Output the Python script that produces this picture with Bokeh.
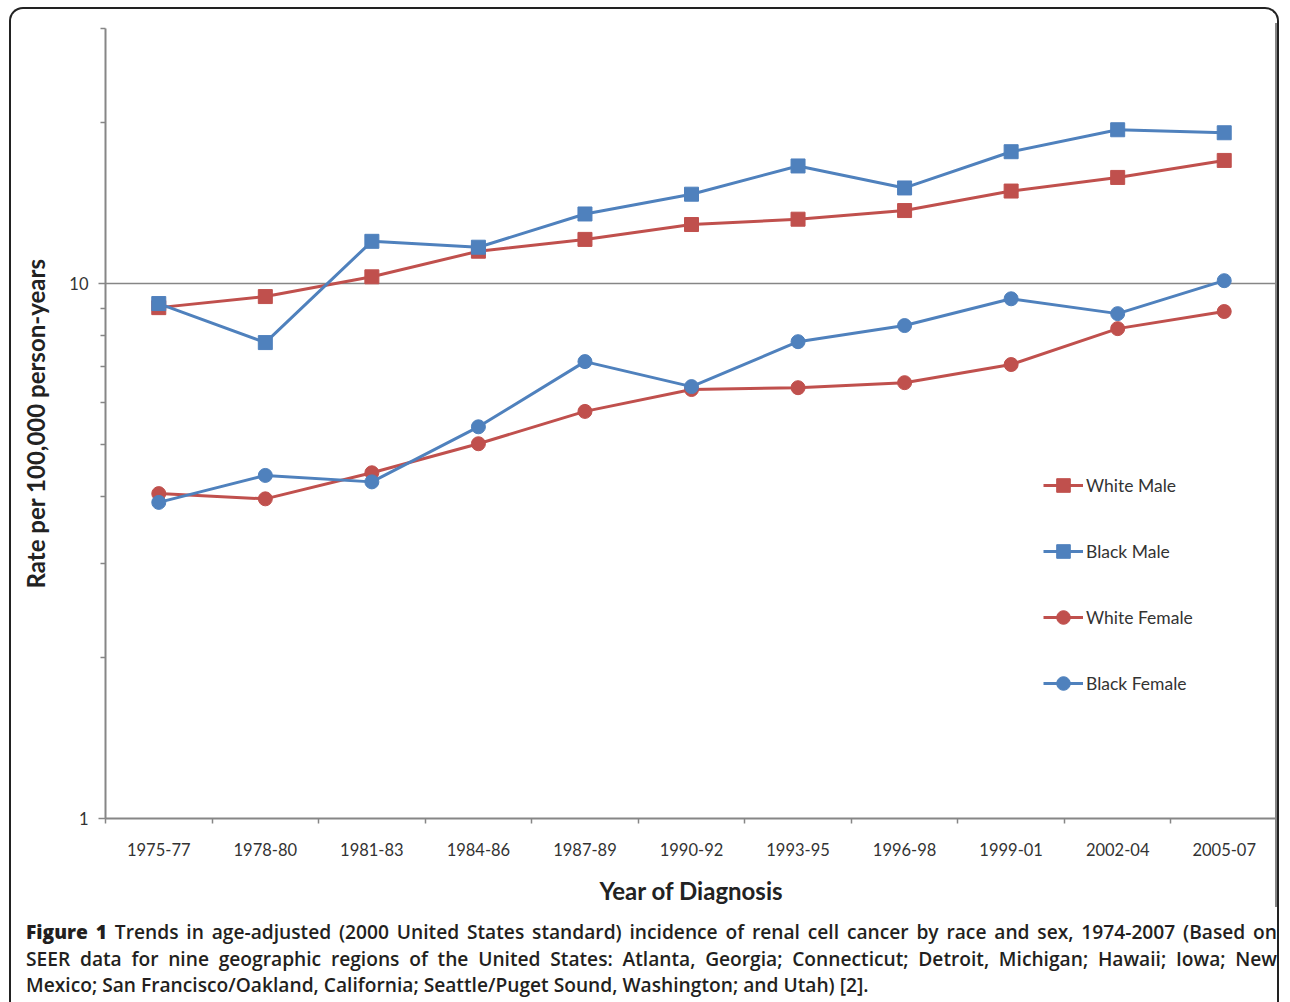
from bokeh.plotting import figure
from bokeh.models import (FixedTicker, NumeralTickFormatter, Range1d, Legend,
                          LegendItem, Div, CustomJSTickFormatter)
from bokeh.layouts import column
from bokeh.embed import file_html
from bokeh.resources import INLINE

periods = ["1975-77", "1978-80", "1981-83", "1984-86", "1987-89", "1990-92",
           "1993-95", "1996-98", "1999-01", "2002-04", "2005-07"]
white_male = [9.02, 9.46, 10.3, 11.5, 12.1, 12.9, 13.2, 13.7, 14.9, 15.8, 17.0]
black_male = [9.18, 7.76, 12.0, 11.7, 13.5, 14.7, 16.6, 15.1, 17.65, 19.4, 19.15]
white_female = [4.05, 3.96, 4.43, 5.02, 5.77, 6.34, 6.39, 6.53, 7.06, 8.24, 8.87]
black_female = [3.90, 4.38, 4.26, 5.40, 7.15, 6.42, 7.79, 8.35, 9.37, 8.79, 10.13]
y_major_ticks = [1, 10]
y_minor_ticks = [2, 3, 4, 5, 6, 7, 8, 9, 20, 30]

RED = "#C0504D"
BLUE = "#4F81BD"
AXIS = "#868686"
TXT = "#333333"

x = [i + 0.5 for i in range(len(periods))]

p = figure(width=1267, height=884,
           x_range=Range1d(0, len(periods)), y_range=Range1d(1, 30),
           y_axis_type="log", output_backend="svg", toolbar_location=None,
           min_border_left=94, min_border_right=0, min_border_top=5,
           min_border_bottom=89, outline_line_color=None,
           styles={"border-right": f"2px solid {AXIS}"})

# x axis
p.xaxis.ticker = FixedTicker(ticks=x, minor_ticks=list(range(len(periods) + 1)))
p.xaxis.formatter = CustomJSTickFormatter(args=dict(labels=periods),
                                          code="const i = Math.floor(tick); return (i >= 0 && i < labels.length) ? labels[i] : '';")
p.xaxis.major_tick_out = 0
p.xaxis.major_tick_in = 0
p.xaxis.minor_tick_out = 5
p.xaxis.minor_tick_in = 0
p.xaxis.minor_tick_line_color = AXIS
p.xaxis.minor_tick_line_width = 1.5
p.xaxis.major_label_standoff = 19
p.xaxis.axis_label = "Year of Diagnosis"
p.xaxis.axis_label_standoff = 17
p.xgrid.visible = False

# y axis
p.yaxis.ticker = FixedTicker(ticks=y_major_ticks, minor_ticks=y_minor_ticks)
p.yaxis.formatter = NumeralTickFormatter(format="0")
p.yaxis.major_tick_out = 7
p.yaxis.major_tick_in = 0
p.yaxis.minor_tick_out = 5
p.yaxis.minor_tick_in = 0
p.yaxis.major_tick_line_color = AXIS
p.yaxis.minor_tick_line_color = AXIS
p.yaxis.major_tick_line_width = 1.5
p.yaxis.minor_tick_line_width = 1.5
p.yaxis.major_label_standoff = 10
p.yaxis.axis_label = "Rate per 100,000 person-years"
p.yaxis.axis_label_standoff = 16
p.ygrid.grid_line_color = AXIS
p.ygrid.grid_line_width = 1.5

for ax in (p.xaxis, p.yaxis):
    ax.axis_line_color = AXIS
    ax.axis_line_width = 2
    ax.major_label_text_font = "Lato"
    ax.major_label_text_font_size = "16.5px"
    ax.major_label_text_color = TXT
    ax.axis_label_text_font = "Lato"
    ax.axis_label_text_font_size = "24px"
    ax.axis_label_text_font_style = "bold"
    ax.axis_label_text_color = "#222222"

series = [
    ("White Male", white_male, RED, "square", 14),
    ("Black Male", black_male, BLUE, "square", 14),
    ("White Female", white_female, RED, "circle", 14),
    ("Black Female", black_female, BLUE, "circle", 14),
]
items = []
for name, vals, col, marker, size in series:
    l = p.line(x, vals, line_color=col, line_width=3)
    s = p.scatter(x, vals, marker=marker, size=size, fill_color=col, line_color=col)
    items.append(LegendItem(label=name, renderers=[l, s]))

legend = Legend(items=items, location=(938, 118), padding=0, margin=0,
                spacing=32, glyph_width=40, glyph_height=34, label_standoff=3,
                label_text_font="Lato", label_text_font_size="17.5px",
                label_text_color=TXT, border_line_alpha=0,
                background_fill_alpha=0)
p.add_layout(legend)

cap_style = ("font-family:'Open Sans'; font-size:19.2px; font-weight:600; color:#231f20; "
             "line-height:26.5px; width:1251px; margin:0; padding:0;")
caption_html = (
    f"<div style=\"{cap_style} text-align:justify; text-align-last:justify;\">"
    "<b style=\"font-weight:800\">Figure 1</b> Trends in age-adjusted (2000 United States standard) incidence of renal cell cancer by race and sex, 1974-2007 (Based on</div>"
    f"<div style=\"{cap_style} text-align:justify; text-align-last:justify;\">"
    "SEER data for nine geographic regions of the United States: Atlanta, Georgia; Connecticut; Detroit, Michigan; Hawaii; Iowa; New</div>"
    f"<div style=\"{cap_style} text-align:left;\">"
    "Mexico; San Francisco/Oakland, California; Seattle/Puget Sound, Washington; and Utah) [2].</div>"
)
caption = Div(text=caption_html, width=1251, height=80,
              styles={"margin-left": "15px", "margin-top": "12px"})

layout = column(p, caption, margin=(7, 0, 0, 9),
                styles={"border-left": "2px solid #222", "border-top": "2px solid #222",
                        "border-right": "2px solid #222",
                        "border-top-left-radius": "14px", "border-top-right-radius": "14px",
                        "padding-top": "14px", "width": "1270px"})

open("out.html", "w").write(file_html(layout, INLINE))
